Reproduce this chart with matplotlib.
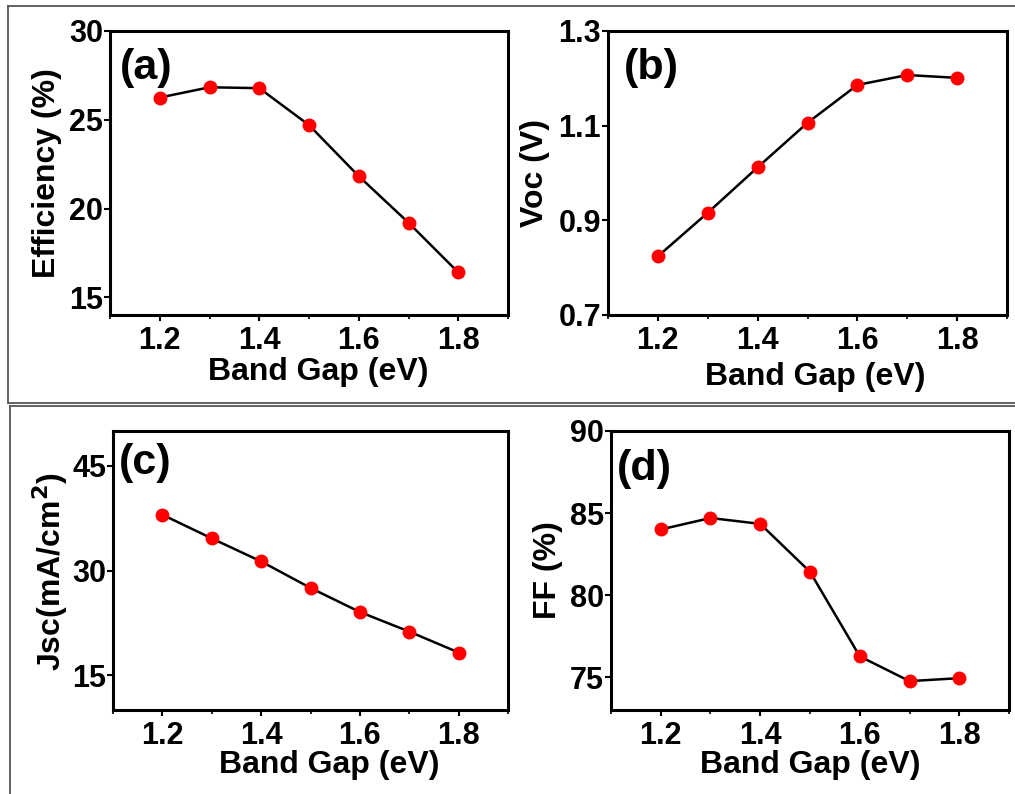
import matplotlib
matplotlib.use("Agg")
import matplotlib.pyplot as plt
from matplotlib.lines import Line2D
from matplotlib.ticker import MultipleLocator

plt.rcParams["font.family"] = ["Liberation Sans", "DejaVu Sans"]
plt.rcParams["font.weight"] = "bold"
plt.rcParams["mathtext.default"] = "bf"

# data
band_gap = [1.2, 1.3, 1.4, 1.5, 1.6, 1.7, 1.8]
efficiency = [26.25, 26.83, 26.78, 24.7, 21.82, 19.2, 16.4]
voc = [0.824, 0.916, 1.012, 1.106, 1.186, 1.207, 1.201]
jsc = [38.0, 34.6, 31.3, 27.5, 24.05, 21.24, 18.24]
ff = [84.0, 84.7, 84.34, 81.42, 76.27, 74.76, 74.94]

W, H = 1015, 794
fig = plt.figure(figsize=(W / 100, H / 100), dpi=100)


def px_axes(l, t, r, b):
    return fig.add_axes([l / W, 1 - b / H, (r - l) / W, (b - t) / H])


panels = [
    # (box in px, y, ylim, yticks, ylabel, ylabel pos, xlabel pos, tag, tag pos)
    ((110, 31, 508, 315), efficiency, (14, 30), [15, 20, 25, 30],
     "Efficiency (%)", (-0.158, 0.5), (0.524, -0.20), "(a)", (0.025, 0.87)),
    ((608, 31, 1007, 315), voc, (0.7, 1.3), [0.7, 0.9, 1.1, 1.3],
     "Voc (V)", (-0.183, 0.5), (0.519, -0.218), "(b)", (0.04, 0.87)),
    ((113, 431, 508, 710), jsc, (10, 50), [15, 30, 45],
     r"Jsc(mA/cm$^2$)", (-0.16, 0.496), (0.548, -0.197), "(c)", (0.015, 0.885)),
    ((611, 431, 1009, 710), ff, (73, 90), [75, 80, 85, 90],
     "FF (%)", (-0.158, 0.5), (0.501, -0.197), "(d)", (0.015, 0.865)),
]

for box, y, ylim, yticks, ylabel, ylpos, xlpos, tag, tagpos in panels:
    ax = px_axes(*box)
    ax.plot(band_gap, y, color="black", lw=1.8, zorder=2)
    ax.plot(band_gap, y, ls="none", marker="o", ms=9, color="#ff0000",
            mec="#ff0000", zorder=3)
    ax.set_xlim(1.1, 1.9)
    ax.set_ylim(*ylim)
    ax.set_xticks([1.2, 1.4, 1.6, 1.8])
    ax.xaxis.set_minor_locator(MultipleLocator(0.1))
    ax.set_yticks(yticks)
    if ylim[1] < 2:
        ax.set_yticklabels([f"{v:.1f}" for v in yticks])
    for s in ax.spines.values():
        s.set_linewidth(2.2)
    ax.tick_params(which="major", direction="out", length=4, width=1.5,
                   labelsize=22, pad=4)
    ax.tick_params(which="minor", direction="out", length=3, width=1.2)
    ax.tick_params(axis="y", pad=1)
    ax.set_xlabel("Band Gap (eV)", fontsize=23, fontweight="bold")
    ax.set_ylabel(ylabel, fontsize=23, fontweight="bold")
    ax.xaxis.set_label_coords(*xlpos)
    ax.xaxis.label.set_va("center")
    ax.yaxis.set_label_coords(*ylpos)
    ax.yaxis.label.set(va="center", rotation_mode="default")
    ax.text(tagpos[0], tagpos[1], tag, transform=ax.transAxes, fontsize=31,
            fontweight="bold", ha="left", va="center")

# thin grey frames around the four quadrants
frame = dict(color="#555555", lw=1.3, transform=fig.transFigure)
for xs, ys in [((8, W), (6, 6)), ((8, 8), (6, 403)), ((9, W), (403, 403)),
               ((10, W), (406, 406)), ((10, 10), (406, H))]:
    fig.add_artist(Line2D([x / W for x in xs], [1 - v / H for v in ys], **frame))

fig.savefig("out.png", dpi=100)
